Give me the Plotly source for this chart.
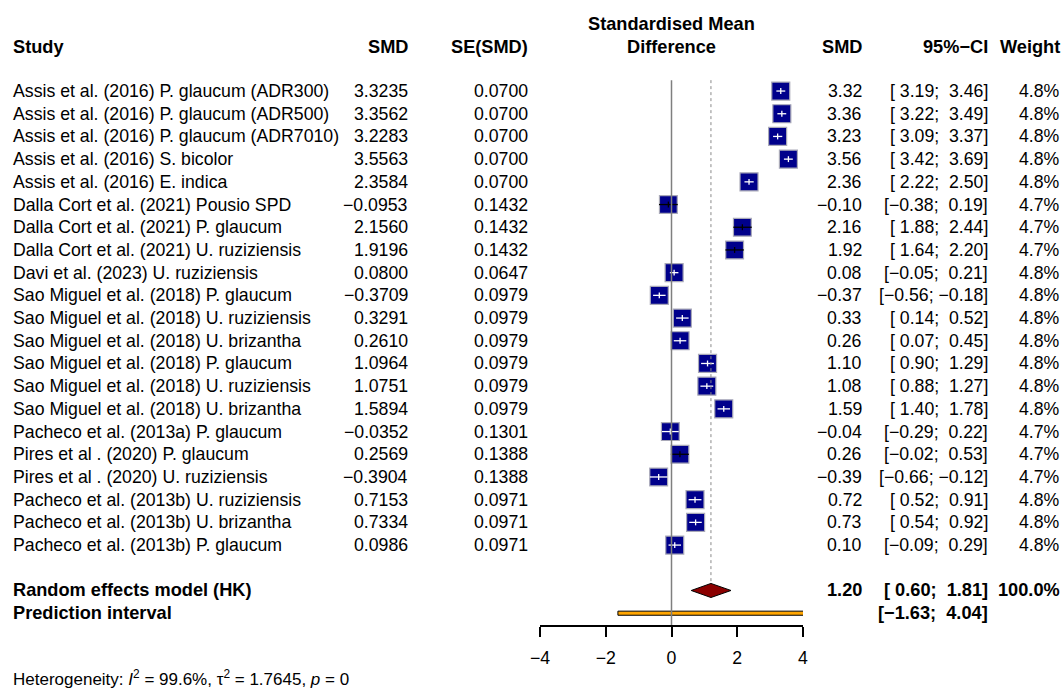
import plotly.graph_objects as go
import math

# ---------------- data ----------------
studies = [
    "Assis et al. (2016) P. glaucum (ADR300)",
    "Assis et al. (2016) P. glaucum (ADR500)",
    "Assis et al. (2016) P. glaucum (ADR7010)",
    "Assis et al. (2016) S. bicolor",
    "Assis et al. (2016) E. indica",
    "Dalla Cort et al. (2021) Pousio SPD",
    "Dalla Cort et al. (2021) P. glaucum",
    "Dalla Cort et al. (2021) U. ruziziensis",
    "Davi et al. (2023) U. ruziziensis",
    "Sao Miguel et al. (2018) P. glaucum",
    "Sao Miguel et al. (2018) U. ruziziensis",
    "Sao Miguel et al. (2018) U. brizantha",
    "Sao Miguel et al. (2018) P. glaucum",
    "Sao Miguel et al. (2018) U. ruziziensis",
    "Sao Miguel et al. (2018) U. brizantha",
    "Pacheco et al. (2013a) P. glaucum",
    "Pires et al . (2020) P. glaucum",
    "Pires et al . (2020) U. ruziziensis",
    "Pacheco et al. (2013b) U. ruziziensis",
    "Pacheco et al. (2013b) U. brizantha",
    "Pacheco et al. (2013b) P. glaucum",
]
smd = [3.3235, 3.3562, 3.2283, 3.5563, 2.3584, -0.0953, 2.1560, 1.9196, 0.0800,
       -0.3709, 0.3291, 0.2610, 1.0964, 1.0751, 1.5894, -0.0352, 0.2569, -0.3904,
       0.7153, 0.7334, 0.0986]
se_smd = [0.0700, 0.0700, 0.0700, 0.0700, 0.0700, 0.1432, 0.1432, 0.1432, 0.0647,
          0.0979, 0.0979, 0.0979, 0.0979, 0.0979, 0.0979, 0.1301, 0.1388, 0.1388,
          0.0971, 0.0971, 0.0971]
ci_lower = [3.19, 3.22, 3.09, 3.42, 2.22, -0.38, 1.88, 1.64, -0.05, -0.56, 0.14, 0.07,
            0.90, 0.88, 1.40, -0.29, -0.02, -0.66, 0.52, 0.54, -0.09]
ci_upper = [3.46, 3.49, 3.37, 3.69, 2.50, 0.19, 2.44, 2.20, 0.21, -0.18, 0.52, 0.45,
            1.29, 1.27, 1.78, 0.22, 0.53, -0.12, 0.91, 0.92, 0.29]
weights = [4.8, 4.8, 4.8, 4.8, 4.8, 4.7, 4.7, 4.7, 4.8, 4.8, 4.8, 4.8, 4.8, 4.8, 4.8,
           4.7, 4.7, 4.7, 4.8, 4.8, 4.8]

re_est, re_lower, re_upper, re_weight = 1.20, 0.60, 1.81, 100.0
pi_lower, pi_upper = -1.63, 4.04
i2, tau2, pval = 99.6, 1.7645, 0

x_ticks = [-4, -2, 0, 2, 4]
x_range = [-4, 4]

# ---------------- layout geometry ----------------
W, H = 1062, 691
FONT = "Liberation Sans, Arial, Helvetica, sans-serif"
FS = 17.7
FSB = 18.2
row_y = list(range(len(studies)))
re_row = len(studies) + 1
pi_row = len(studies) + 2
hdr1, hdr2 = -2.95, -1.94
y_top, y_bot = -4.01, 23.52
ydom_bottom = 1 - 625 / H
xdom = [540 / W, 803 / W]
px_per_unit = (803 - 540) / (x_range[1] - x_range[0])


def fnum(v, fmt):
    return format(v, fmt).replace("-", "\u2212")


def fci(lo, hi):
    return ("[" + format(lo, "5.2f") + "; " + format(hi, "5.2f") + "]").replace(
        "-", "\u2212").replace(" ", "\u00a0")


fig = go.Figure()

# vertical reference lines
fig.add_shape(type="line", xref="x", yref="y", x0=0, x1=0, y0=-0.48, y1=y_bot,
              line=dict(color="#7f7f7f", width=1.5))
fig.add_shape(type="line", xref="x", yref="y", x0=re_est, x1=re_est, y0=-0.48,
              y1=re_row - 0.32, line=dict(color="#8a8a8a", width=1, dash="dot"))

# squares
sizes = [18 * math.sqrt(w / 4.8) for w in weights]
fig.add_trace(go.Scatter(
    x=smd, y=row_y, mode="markers", cliponaxis=False, hoverinfo="skip", opacity=1,
    marker=dict(symbol="square", size=sizes, color="#00008B", opacity=1,
                line=dict(color="#a9a9b8", width=1.2)),
    showlegend=False))

# CI lines (+ small tick at estimate); white when inside the square
bx, by, wx, wy = [], [], [], []
for est, lo, hi, r, s in zip(smd, ci_lower, ci_upper, row_y, sizes):
    inside = (est - lo) * px_per_unit < s / 2 and (hi - est) * px_per_unit < s / 2
    xs = [lo, hi, None, est, est, None]
    ys = [r, r, None, r - 0.13, r + 0.13, None]
    if inside:
        wx += xs; wy += ys
    else:
        bx += xs; by += ys
fig.add_trace(go.Scatter(x=bx, y=by, mode="lines", line=dict(color="black", width=1.3),
                         hoverinfo="skip", showlegend=False, cliponaxis=False))
fig.add_trace(go.Scatter(x=wx, y=wy, mode="lines", line=dict(color="white", width=1.3),
                         hoverinfo="skip", showlegend=False, cliponaxis=False))

# diamond for random effects model
fig.add_trace(go.Scatter(
    x=[re_lower, re_est, re_upper, re_est, re_lower],
    y=[re_row, re_row - 0.31, re_row, re_row + 0.31, re_row],
    mode="lines", fill="toself", fillcolor="#8B0000",
    line=dict(color="black", width=1), hoverinfo="skip", showlegend=False))

# prediction interval bar
fig.add_trace(go.Scatter(
    x=[pi_lower, pi_upper, pi_upper, pi_lower, pi_lower],
    y=[pi_row - 0.09, pi_row - 0.09, pi_row + 0.09, pi_row + 0.09, pi_row - 0.09],
    mode="lines", fill="toself", fillcolor="#FFA500",
    line=dict(color="black", width=1), hoverinfo="skip", showlegend=False))

# ---------------- text columns ----------------
ann = []


def add_text(px, y, text, anchor, bold=False, yref="y"):
    size = FS
    if bold:
        text = "<b>" + text + "</b>"
        size = FSB
    ann.append(dict(x=px / W, xref="paper", y=y, yref=yref, text=text, showarrow=False,
                    xanchor=anchor, yanchor="middle", borderpad=0,
                    font=dict(family=FONT, size=size, color="black")))


col_study, col_smd, col_se = 12, 409, 529
col_smd2, col_ci, col_w = 863, 989, 1061
col_mid = (540 + 803) / 2

# headers
add_text(col_study, hdr2, "Study", "left", True)
add_text(col_smd, hdr2, "SMD", "right", True)
add_text(col_se, hdr2, "SE(SMD)", "right", True)
add_text(col_mid, hdr1, "Standardised Mean", "center", True)
add_text(col_mid, hdr2, "Difference", "center", True)
add_text(col_smd2, hdr2, "SMD", "right", True)
add_text(col_ci, hdr2, "95%\u2212CI", "right", True)
add_text(col_w, hdr2, "Weight", "right", True)

for name, m, s, lo, hi, w, r in zip(studies, smd, se_smd, ci_lower, ci_upper, weights, row_y):
    add_text(col_study, r, name, "left")
    add_text(col_smd, r, fnum(m, ".4f"), "right")
    add_text(col_se, r, fnum(s, ".4f"), "right")
    add_text(col_smd2, r, fnum(m, ".2f"), "right")
    add_text(col_ci, r, fci(lo, hi), "right")
    add_text(col_w, r, fnum(w, ".1f") + "%", "right")

add_text(col_study, re_row, "Random effects model (HK)", "left", True)
add_text(col_smd2, re_row, fnum(re_est, ".2f"), "right", True)
add_text(col_ci, re_row, fci(re_lower, re_upper), "right", True)
add_text(col_w, re_row, fnum(re_weight, ".1f") + "%", "right", True)
add_text(col_study, pi_row, "Prediction interval", "left", True)
add_text(col_ci, pi_row, fci(pi_lower, pi_upper), "right", True)

het = ("Heterogeneity: <i>I</i><sup>2</sup> = " + format(i2, ".1f") + "%, \u03c4<sup>2</sup> = "
       + format(tau2, ".4f") + ", <i>p</i> = " + str(pval))
ann.append(dict(x=12 / W, xref="paper", y=1.5 / H, yref="paper", text=het,
                showarrow=False, xanchor="left", yanchor="bottom", borderpad=0,
                font=dict(family=FONT, size=FS - 0.7, color="black")))

fig.update_layout(
    width=W, height=H, margin=dict(l=0, r=0, t=0, b=0),
    paper_bgcolor="white", plot_bgcolor="white",
    annotations=ann, showlegend=False,
    xaxis=dict(domain=xdom, range=x_range, tickvals=x_ticks, showgrid=False,
               zeroline=False, showline=True, linecolor="black", linewidth=1.5,
               ticks="outside", ticklen=10, tickwidth=1.5, tickcolor="black",
               tickfont=dict(family=FONT, size=FS, color="black"),
               ticklabelstandoff=6, automargin=False, fixedrange=True),
    yaxis=dict(domain=[ydom_bottom, 1], range=[y_bot, y_top], visible=False,
               showgrid=False, zeroline=False, automargin=False, fixedrange=True),
)

fig.write_html("out.html")
